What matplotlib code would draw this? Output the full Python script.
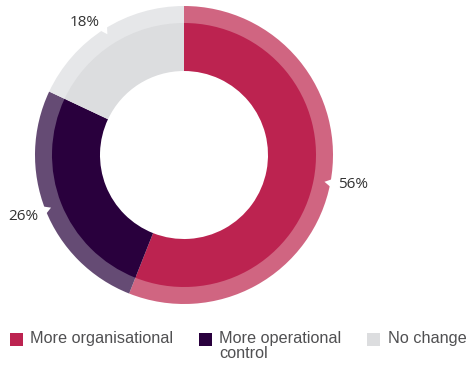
import numpy as np
import matplotlib.pyplot as plt
from matplotlib.patches import Polygon, Rectangle

# data
labels = ['More organisational', 'More operational\ncontrol', 'No change']
shares = [56, 26, 18]
pct_labels = ['56%', '26%', '18%']
inner_colors = ['#bc2350', '#29003d', '#dcdddf']
outer_colors = ['#d06581', '#654b74', '#e6e7e9']

W, H = 469, 367
cx, cy = 184, 212          # donut centre in pixels (from bottom)
r_out, r_mid, r_hole = 149, 132, 84

fig = plt.figure(figsize=(W / 100, H / 100), dpi=100)
ax = fig.add_axes([0, 0, 1, 1])

# lighter outer band, then the main ring on top
ax.pie(shares, colors=outer_colors, radius=r_out, center=(cx, cy),
       startangle=90, counterclock=False,
       wedgeprops=dict(width=r_out - r_mid + 2, linewidth=0))
ax.pie(shares, colors=inner_colors, radius=r_mid, center=(cx, cy),
       startangle=90, counterclock=False,
       wedgeprops=dict(width=r_mid - r_hole, linewidth=0))

# little notch in the outer band + the percentage label at each slice midpoint
cum = np.cumsum(shares)
for share, c, txt in zip(shares, cum, pct_labels):
    ang = np.deg2rad(90 - 360 * (c - share / 2) / 100)
    u = np.array([np.cos(ang), np.sin(ang)])
    n = np.array([-u[1], u[0]])
    centre = np.array([cx, cy])
    tip = centre + u * 143
    base1 = centre + u * 150 + n * 4
    base2 = centre + u * 150 - n * 4
    ax.add_patch(Polygon([tip, base1, base2], closed=True, color='white', lw=0, zorder=5))
    pos = centre + u * 157
    ax.text(pos[0], pos[1] - (4 if u[0] < 0 and u[1] < 0 else 0), txt,
            ha='left' if u[0] > 0 else 'right', va='center',
            fontsize=11, family='Open Sans', color='#333333', zorder=6)

# legend drawn by hand so the swatch lines up with the first text line
sq_x = [10, 199, 367]
txt_x = [30, 219, 388]
for x0, tx, col, lab in zip(sq_x, txt_x, inner_colors, labels):
    ax.add_patch(Rectangle((x0, 21), 13, 13, color=col, lw=0))
    ax.text(tx, 35.5, lab, ha='left', va='top', fontsize=11.7, linespacing=0.97,
            family='Liberation Sans', color='#505052')

ax.set_xlim(0, W)
ax.set_ylim(0, H)
ax.set_aspect('auto')
ax.axis('off')

fig.savefig('out.png', dpi=100)
